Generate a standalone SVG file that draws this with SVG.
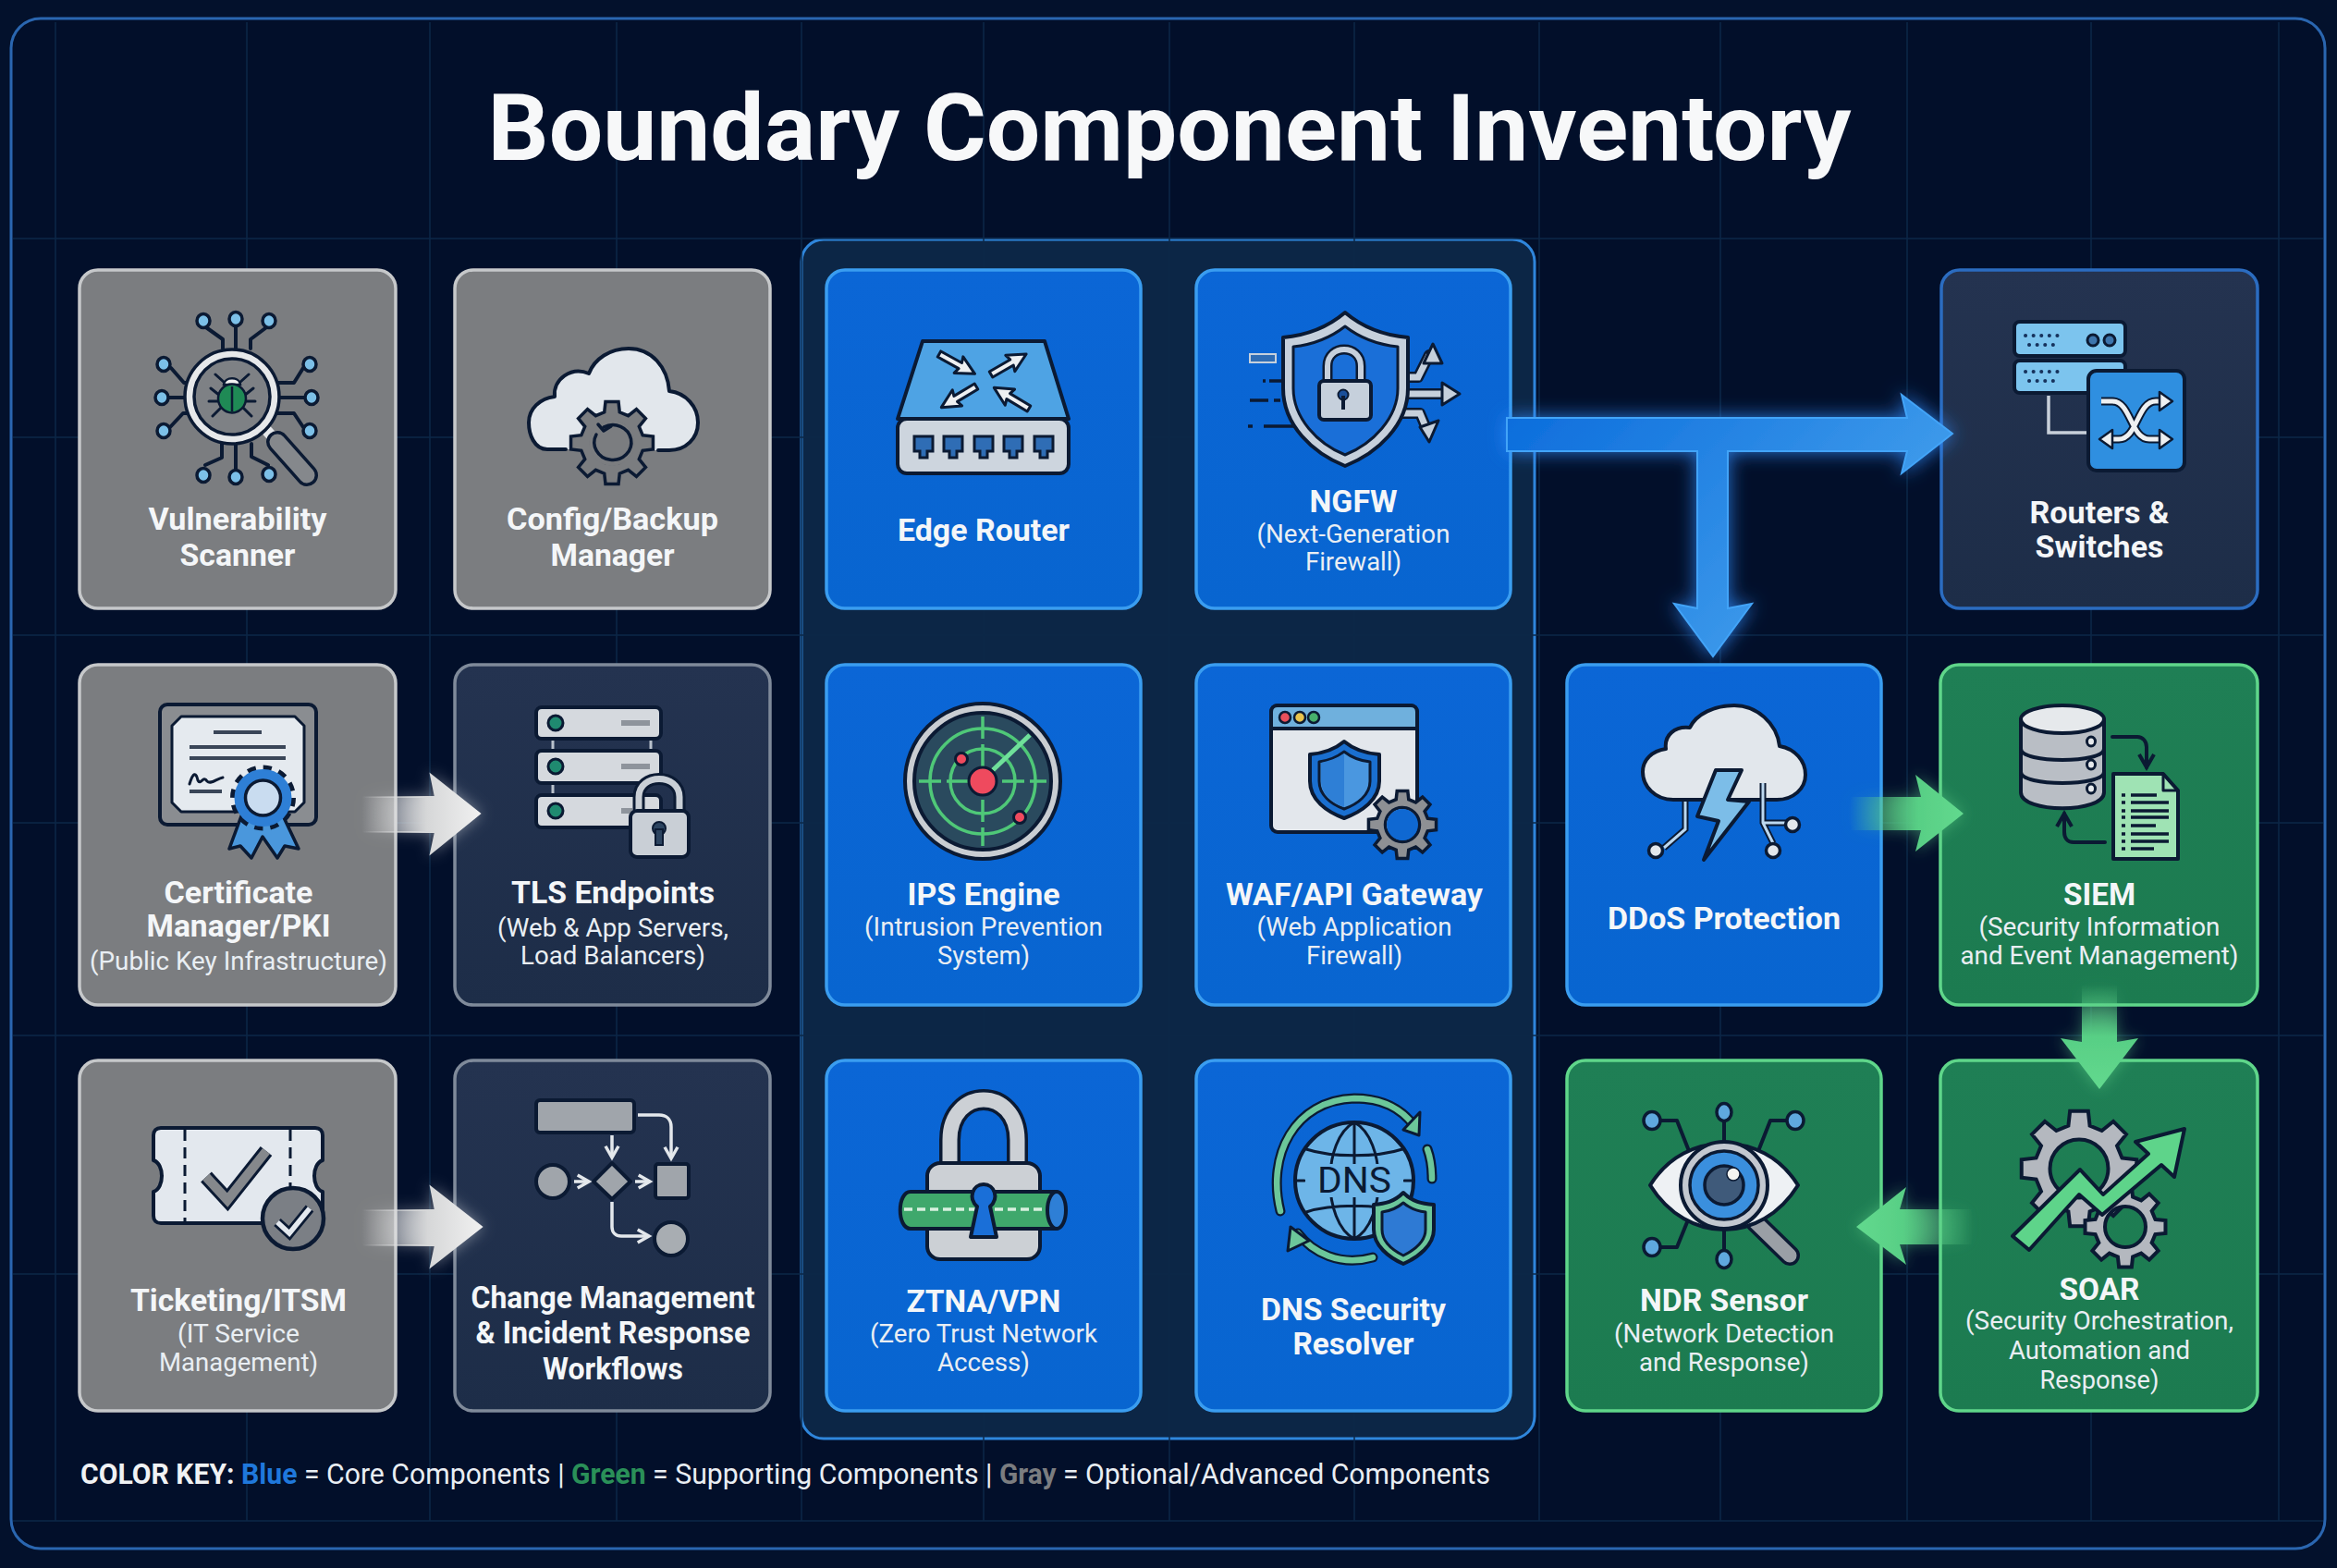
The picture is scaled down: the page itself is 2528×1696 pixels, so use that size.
<svg xmlns="http://www.w3.org/2000/svg" width="2528" height="1696" viewBox="0 0 2528 1696">
<style>
text{font-family:Roboto,"Liberation Sans",sans-serif;text-anchor:middle}
.h{font-size:34px;font-weight:700;fill:#f4f6f8}
.s{font-size:27px;font-weight:400;fill:#e9eef3}
.card{stroke-width:3.5}
.gray{fill:#7b7d80;stroke:#c6c8ca}
.dark{fill:url(#gDark);stroke:#7f8a9a}
.dkb{fill:url(#gDark);stroke:#2b6cc0}
.blue{fill:url(#gBlue);stroke:#3a9df0}
.green{fill:url(#gGreen);stroke:#5fd68a}
.o{stroke:#0b1a33;stroke-width:4;stroke-linejoin:round;stroke-linecap:round}
.l{fill:none;stroke:#0b1a33;stroke-width:4;stroke-linejoin:round;stroke-linecap:round}
.n{fill:#7cc0e8;stroke:#0b1a33;stroke-width:3.5}
.grid{stroke:#0c2848;stroke-width:1.5;fill:none}
.ks{text-anchor:start;font-size:32px}
</style>
<defs>
<linearGradient id="gBlue" x1="0" y1="0" x2="0" y2="1"><stop offset="0" stop-color="#0b66d6"/><stop offset="1" stop-color="#0865d0"/></linearGradient>
<linearGradient id="gGreen" x1="0" y1="0" x2="0" y2="1"><stop offset="0" stop-color="#1f7f55"/><stop offset="1" stop-color="#1c7b50"/></linearGradient>
<linearGradient id="gDark" x1="0" y1="0" x2="0" y2="1"><stop offset="0" stop-color="#243350"/><stop offset="1" stop-color="#1d2d48"/></linearGradient>
<linearGradient id="aT" gradientUnits="userSpaceOnUse" x1="1630" y1="450" x2="2000" y2="800"><stop offset="0" stop-color="#0c6ddc"/><stop offset=".7" stop-color="#3b98ea"/></linearGradient>
<linearGradient id="aG1" gradientUnits="userSpaceOnUse" x1="392" y1="0" x2="519" y2="0"><stop offset="0" stop-color="#e6e6e6" stop-opacity="0"/><stop offset=".55" stop-color="#d6d7d8"/><stop offset="1" stop-color="#f0f0f0"/></linearGradient>
<linearGradient id="aG2" gradientUnits="userSpaceOnUse" x1="392" y1="0" x2="521" y2="0"><stop offset="0" stop-color="#e6e6e6" stop-opacity="0"/><stop offset=".55" stop-color="#d6d7d8"/><stop offset="1" stop-color="#f0f0f0"/></linearGradient>
<linearGradient id="aN1" gradientUnits="userSpaceOnUse" x1="2001" y1="0" x2="2124" y2="0"><stop offset="0" stop-color="#5ed48a" stop-opacity="0"/><stop offset=".6" stop-color="#58cf85"/><stop offset="1" stop-color="#62d98e"/></linearGradient>
<linearGradient id="aN2" gradientUnits="userSpaceOnUse" x1="0" y1="1065" x2="0" y2="1178"><stop offset="0" stop-color="#5ed48a" stop-opacity="0"/><stop offset=".5" stop-color="#58cf85"/><stop offset="1" stop-color="#62d98e"/></linearGradient>
<linearGradient id="aN3" gradientUnits="userSpaceOnUse" x1="2134" y1="0" x2="2008" y2="0"><stop offset="0" stop-color="#5ed48a" stop-opacity="0"/><stop offset=".6" stop-color="#58cf85"/><stop offset="1" stop-color="#62d98e"/></linearGradient>
<filter id="gl" x="-20%" y="-30%" width="140%" height="160%"><feDropShadow dx="0" dy="0" stdDeviation="10" flood-color="#2f8cff" flood-opacity=".8"/></filter>
<filter id="glw" x="-30%" y="-30%" width="160%" height="160%"><feDropShadow dx="0" dy="0" stdDeviation="8" flood-color="#ffffff" flood-opacity=".4"/></filter>
<filter id="gln" x="-30%" y="-30%" width="160%" height="160%"><feDropShadow dx="0" dy="0" stdDeviation="8" flood-color="#5ed48a" flood-opacity=".5"/></filter>
<path id="gear" fill-rule="evenodd" vector-effect="non-scaling-stroke" d="M.737,-.184 L.988,-.156 .988,.156 .737,.184 .651,.391 .809,.588 .588,.809 .391,.651 .184,.737 .156,.988 -.156,.988 -.184,.737 -.391,.651 -.588,.809 -.809,.588 -.651,.391 -.737,.184 -.988,.156 -.988,-.156 -.737,-.184 -.651,-.391 -.809,-.588 -.588,-.809 -.391,-.651 -.184,-.737 -.156,-.988 .156,-.988 .184,-.737 .391,-.651 .588,-.809 .809,-.588 .651,-.391 Z M.5,0 A.5,.5 0 1 0 -.5,0 A.5,.5 0 1 0 .5,0Z"/>
<polygon id="ar" points="0,-3.5 26,-3.5 24,-10 44,0 24,10 26,3.5 0,3.5" fill="#eef0f2" stroke="#0b1a33" stroke-width="3" stroke-linejoin="round"/>
<marker id="mW" viewBox="0 0 10 10" refX="8" refY="5" markerWidth="5" markerHeight="5" orient="auto"><path d="M1,1 L8,5 L1,9" fill="none" stroke="#e4e8ec" stroke-width="2"/></marker>
<marker id="mD" viewBox="0 0 10 10" refX="8" refY="5" markerWidth="5" markerHeight="5" orient="auto"><path d="M1,1 L8,5 L1,9" fill="none" stroke="#0b1a33" stroke-width="2"/></marker>
</defs>

<rect width="2528" height="1696" fill="#03112c"/>
<rect x="12" y="20" width="2503" height="1655" rx="32" fill="#020f2a" stroke="#2a66b0" stroke-width="3"/>
<rect id="panel" x="867" y="259" width="793" height="1297" rx="24" fill="#0c2646" stroke="#2f86dc" stroke-width="3"/>
<path class="grid" d="M60 24V1645M267 24V1645M465 24V1645M667 24V1645M867 24V1645M1064 24V1645M1265 24V1645M1465 24V1645M1665 24V1645M1861 24V1645M2063 24V1645M2262 24V1645M2465 24V1645M14 258H2513M14 473H2513M14 687H2513M14 890H2513M14 1120H2513M14 1378H2513M14 1645H2513"/>

<text id="title" x="1265" y="173" style="font-size:100px;font-weight:700;fill:#f7f8f9" textLength="1475" lengthAdjust="spacingAndGlyphs">Boundary Component Inventory</text>

<g id="vulnerability-scanner">
<rect class="card gray" x="86" y="292" width="342" height="366" rx="20"/>
<path class="l" d="M220 352L241 367V377M255 352V380M291 352L271 367V377M185 398L199 414H205M183 430H202M184 462L198 447H205M328 398L318 414H300M329 430H300M300 447H318L328 462M222 503L240 495V480M255 508V480M272 480V494L290 503"/>
<g class="n"><ellipse cx="220" cy="347" rx="7" ry="7.5"/><ellipse cx="255" cy="345" rx="7" ry="7.5"/><ellipse cx="291" cy="347" rx="7" ry="7.5"/><ellipse cx="177" cy="394" rx="7" ry="7.5"/><ellipse cx="175" cy="430" rx="7" ry="7.5"/><ellipse cx="177" cy="466" rx="7" ry="7.5"/><ellipse cx="335" cy="394" rx="7" ry="7.5"/><ellipse cx="337" cy="430" rx="7" ry="7.5"/><ellipse cx="335" cy="466" rx="7" ry="7.5"/><ellipse cx="220" cy="514" rx="7" ry="7.5"/><ellipse cx="255" cy="516" rx="7" ry="7.5"/><ellipse cx="291" cy="513" rx="7" ry="7.5"/></g>
<line x1="287" y1="464" x2="298" y2="476" stroke="#e6e8ea" stroke-width="12"/>
<line x1="300" y1="478" x2="332" y2="514" stroke="#0b1a33" stroke-width="24" stroke-linecap="round"/>
<line x1="300" y1="478" x2="332" y2="514" stroke="#85888c" stroke-width="17" stroke-linecap="round"/>
<circle cx="251" cy="429" r="46" fill="#7e8185" stroke="#e6e8ea" stroke-width="10"/>
<circle cx="251" cy="429" r="51" fill="none" stroke="#0b1a33" stroke-width="3.5"/>
<circle cx="251" cy="429" r="41" fill="none" stroke="#0b1a33" stroke-width="3.5"/>
<path class="l" style="stroke-width:3" d="M233 405L243 414M269 405L259 414M228 420L238 428M274 420L264 428M226 434H237M276 434H265M230 450L240 440M272 450L262 440"/>
<path d="M242 416C243 407 259 407 260 416Z" fill="#f2f2f2" stroke="#0b1a33" stroke-width="2.5"/>
<ellipse cx="251" cy="431" rx="15" ry="15.5" fill="#1f8a55" stroke="#0b1a33" stroke-width="2.5"/>
<line x1="251" y1="418" x2="251" y2="445" stroke="#0b1a33" stroke-width="2.5"/>
<text class="h" x="257" y="573" textLength="193" lengthAdjust="spacingAndGlyphs">Vulnerability</text>
<text class="h" x="257" y="612" textLength="125" lengthAdjust="spacingAndGlyphs">Scanner</text>
</g>

<g id="config-backup-manager">
<rect class="card gray" x="492" y="292" width="341" height="366" rx="20"/>
<path d="M612 486H592C578 486 572 470 572 457C572 442 584 431 600 429C598 410 618 396 637 404C643 388 660 377 680 377C705 377 722 397 724 423C742 425 755 440 755 457C755 474 742 487 724 487H712Z" fill="#e2e7ec"/>
<path class="l" d="M612 486H592C578 486 572 470 572 457C572 442 584 431 600 429C598 410 618 396 637 404C643 388 660 377 680 377C705 377 722 397 724 423C742 425 755 440 755 457C755 474 742 487 724 487H712"/>
<use href="#gear" transform="translate(662 479) scale(45)" fill="#7b7d80" stroke="#0b1a33" stroke-width="3.5"/>
<circle cx="662" cy="479" r="25" fill="#7b7d80"/>
<path class="l" style="stroke-width:3.5" d="M653 462A20 19 0 1 1 645 470"/>
<path class="l" style="stroke-width:3.5" d="M647 459L653 466L661 461"/>
<text class="h" x="662.5" y="573" textLength="229" lengthAdjust="spacingAndGlyphs">Config/Backup</text>
<text class="h" x="662.5" y="612" textLength="134" lengthAdjust="spacingAndGlyphs">Manager</text>
</g>

<g id="edge-router">
<rect class="card blue" x="894" y="292" width="340" height="366" rx="20"/>
<path class="o" d="M998 369H1130L1156 453H971Z" fill="#4ea3e4"/>
<rect class="o" x="971" y="453" width="185" height="59" rx="10" fill="#cdd5de"/>
<use href="#ar" transform="translate(1016 383) rotate(29)"/>
<use href="#ar" transform="translate(1072 405) rotate(-30)"/>
<use href="#ar" transform="translate(1056 418) rotate(149)"/>
<use href="#ar" transform="translate(1113 442) rotate(211)"/>
<g fill="#2f6db5" stroke="#0b1a33" stroke-width="3"><path d="M989 472H1009V488H1003V495H995V488H989Z"/><path d="M1021 472H1041V488H1035V495H1027V488H1021Z"/><path d="M1054 472H1074V488H1068V495H1060V488H1054Z"/><path d="M1086 472H1106V488H1100V495H1092V488H1086Z"/><path d="M1119 472H1139V488H1133V495H1125V488H1119Z"/></g>
<text class="h" x="1064" y="585" textLength="186" lengthAdjust="spacingAndGlyphs">Edge Router</text>
</g>

<g id="ngfw">
<rect class="card blue" x="1294" y="292" width="340" height="366" rx="20"/>
<path class="l" style="stroke-width:12" d="M1510 408H1534L1546 384M1510 426H1566M1508 447H1536L1544 466"/>
<path fill="none" stroke="#c6d0dc" stroke-width="7" d="M1510 408H1534L1546 384M1510 426H1566M1508 447H1536L1544 466"/>
<path class="o" fill="#c6d0dc" d="M1550 372L1560 393H1540ZM1579 426L1560 414V438ZM1546 478L1556 455L1536 462Z" style="stroke-width:3"/>
<path class="o" d="M1455 338C1435 355 1410 363 1388 365V420C1388 460 1420 490 1455 504C1490 490 1523 460 1523 420V365C1500 363 1475 355 1455 338Z" fill="#c6d0dc"/>
<path class="o" style="stroke-width:3" d="M1455 353C1437 367 1418 373 1399 375V420C1399 452 1425 480 1455 492C1485 480 1512 452 1512 420V375C1492 373 1473 367 1455 353Z" fill="#1a6fd8"/>
<path class="l" style="stroke:#0b1a33;stroke-width:11" d="M1436 412V396C1436 372 1472 372 1472 396V412"/>
<path class="l" style="stroke:#c6d0dc;stroke-width:6" d="M1436 412V396C1436 372 1472 372 1472 396V412"/>
<rect class="o" x="1427" y="412" width="56" height="42" rx="5" fill="#c6d0dc"/>
<circle cx="1453" cy="427" r="5.5" fill="#1a4f9a" stroke="#0b1a33" stroke-width="2"/><rect x="1451" y="428" width="4" height="15" fill="#0b1a33"/>
<rect x="1352" y="383" width="28" height="9" fill="#2f6db5" stroke="#c6d0dc" stroke-width="2"/>
<path fill="none" stroke="#0b1a33" stroke-width="3.5" d="M1366 412H1369M1373 412H1388M1352 433H1372M1378 433H1385M1350 461H1355M1367 461H1400"/>
<text class="h" x="1464" y="554" textLength="95" lengthAdjust="spacingAndGlyphs">NGFW</text>
<text class="s" x="1464" y="587" textLength="209" lengthAdjust="spacingAndGlyphs">(Next-Generation</text>
<text class="s" x="1464" y="617" textLength="104" lengthAdjust="spacingAndGlyphs">Firewall)</text>
</g>

<g id="routers-switches">
<rect class="card dkb" x="2100" y="292" width="342" height="366" rx="20"/>
<path fill="none" stroke="#c8d0da" stroke-width="3.5" d="M2216 428V468H2258"/>
<rect class="o" x="2179" y="348" width="120" height="37" rx="6" fill="#7cc4ee"/>
<rect class="o" x="2179" y="390" width="120" height="35" rx="6" fill="#7cc4ee"/>
<g fill="none" stroke="#16325c" stroke-width="4" stroke-linecap="round" stroke-dasharray=".1 8.5"><path d="M2191 363H2231M2195 373H2228M2191 402H2231M2195 412H2228"/></g>
<circle cx="2264" cy="368" r="6" fill="#3d75ad" stroke="#0b1a33" stroke-width="3"/><circle cx="2282" cy="368" r="6" fill="#3d75ad" stroke="#0b1a33" stroke-width="3"/>
<rect class="o" x="2259" y="401" width="104" height="108" rx="9" fill="#2f8fe0"/>
<path fill="none" stroke="#0b1a33" stroke-width="9" d="M2273 434H2285C2305 434 2305 475 2325 475H2340M2281 475H2292C2312 475 2312 434 2332 434H2340"/>
<path fill="none" stroke="#eef0f2" stroke-width="5" d="M2273 434H2285C2305 434 2305 475 2325 475H2340M2281 475H2292C2312 475 2312 434 2332 434H2340"/>
<path class="o" style="stroke-width:2.5" fill="#eef0f2" d="M2350 434L2336 424V444ZM2350 475L2336 465V485ZM2271 475L2285 465V485Z"/>
<text class="h" x="2271" y="566" textLength="151" lengthAdjust="spacingAndGlyphs">Routers &amp;</text>
<text class="h" x="2271" y="603" textLength="139" lengthAdjust="spacingAndGlyphs">Switches</text>
</g>

<g id="certificate-manager">
<rect class="card gray" x="86" y="719" width="342" height="368" rx="20"/>
<rect class="o" x="173" y="762" width="169" height="130" rx="8" fill="#8a8d91"/>
<path class="o" style="stroke-width:3" d="M196 775H319L329 785V868L319 878H196L186 868V785Z" fill="#e5eaef"/>
<path fill="none" stroke="#3a4658" stroke-width="4" d="M231 792H283M205 808H309M205 820H309M205 856H240"/>
<path class="l" style="stroke-width:3" d="M205 848C209 835 212 835 214 844C217 850 220 838 224 845C228 849 235 842 241 841"/>
<path d="M262 880L248 918L260 915L272 928L284 905L300 928L308 915L323 918L305 880Z" fill="#4a97dc" class="o" style="stroke-width:3.5"/>
<circle cx="284.5" cy="863" r="32" fill="none" stroke="#0b1a33" stroke-width="7" stroke-dasharray="9 7.75"/>
<circle cx="284.5" cy="863" r="31" fill="#2e7fd6"/>
<circle cx="284.5" cy="863" r="19" fill="#c9dcf0" stroke="#0b1a33" stroke-width="3.5"/>
<text class="h" x="258" y="977" textLength="161" lengthAdjust="spacingAndGlyphs">Certificate</text>
<text class="h" x="258" y="1013" textLength="199" lengthAdjust="spacingAndGlyphs">Manager/PKI</text>
<text class="s" x="258" y="1049" textLength="322" lengthAdjust="spacingAndGlyphs">(Public Key Infrastructure)</text>
</g>

<g id="tls-endpoints">
<rect class="card dark" x="492" y="719" width="341" height="368" rx="20"/>
<path fill="none" stroke="#b9c1cb" stroke-width="3" d="M598 800V811M704 800V811M598 848V859"/>
<rect class="o" x="580" y="765" width="135" height="34" rx="6" fill="#d5d9de"/>
<rect class="o" x="580" y="812" width="135" height="35" rx="6" fill="#d5d9de"/>
<rect class="o" x="580" y="860" width="135" height="35" rx="6" fill="#d5d9de"/>
<g fill="#1f8a70" stroke="#0b1a33" stroke-width="3"><circle cx="601" cy="782" r="8"/><circle cx="601" cy="829" r="8"/><circle cx="601" cy="877" r="8"/></g>
<g fill="#8e949c"><rect x="672" y="779" width="31" height="6"/><rect x="672" y="826" width="31" height="6"/><rect x="672" y="874" width="12" height="6"/></g>
<path fill="none" stroke="#0b1a33" stroke-width="13" d="M691 877V862C691 836 735 836 735 862V877"/>
<path fill="none" stroke="#c9cfd6" stroke-width="7" d="M691 877V862C691 836 735 836 735 862V877"/>
<rect class="o" x="682" y="877" width="63" height="50" rx="7" fill="#c9cfd6"/>
<circle cx="713" cy="896" r="7" fill="#2c4460" stroke="#0b1a33" stroke-width="2"/><rect x="709" y="897" width="8" height="17" fill="#2c4460" stroke="#0b1a33" stroke-width="2"/>
<text class="h" x="663" y="977" textLength="220" lengthAdjust="spacingAndGlyphs">TLS Endpoints</text>
<text class="s" x="663" y="1013" textLength="250" lengthAdjust="spacingAndGlyphs">(Web &amp; App Servers,</text>
<text class="s" x="663" y="1043" textLength="200" lengthAdjust="spacingAndGlyphs">Load Balancers)</text>
</g>

<g id="ips-engine">
<rect class="card blue" x="894" y="719" width="340" height="368" rx="20"/>
<circle cx="1063" cy="845" r="84" fill="#c9cdd2" stroke="#0b1a33" stroke-width="4"/>
<circle cx="1063" cy="845" r="74" fill="#2a4a5e" stroke="#0b1a33" stroke-width="4"/>
<g fill="none" stroke="#4fc878" stroke-width="3.5"><circle cx="1063" cy="845" r="57"/><circle cx="1063" cy="845" r="35"/><path stroke-dasharray="24 6" d="M994 845H1132M1063 775V915"/></g>
<line x1="1074" y1="833" x2="1114" y2="795" stroke="#6fe09a" stroke-width="5"/>
<g fill="#ef4a5e" stroke="#0b1a33" stroke-width="3"><circle cx="1063" cy="845" r="15"/><circle cx="1040" cy="821" r="6.5"/><circle cx="1103" cy="884" r="6.5"/></g>
<text class="h" x="1064" y="979" textLength="165" lengthAdjust="spacingAndGlyphs">IPS Engine</text>
<text class="s" x="1064" y="1012" textLength="258" lengthAdjust="spacingAndGlyphs">(Intrusion Prevention</text>
<text class="s" x="1064" y="1043" textLength="100" lengthAdjust="spacingAndGlyphs">System)</text>
</g>

<g id="waf-api-gateway">
<rect class="card blue" x="1294" y="719" width="340" height="368" rx="20"/>
<rect class="o" x="1375" y="763" width="158" height="137" rx="7" fill="#e3e7ec"/>
<path class="o" d="M1382 763H1526C1530 763 1533 766 1533 770V788H1375V770C1375 766 1378 763 1382 763Z" fill="#6fb0dd"/>
<g stroke="#0b1a33" stroke-width="2.5"><circle cx="1390" cy="776" r="6" fill="#e8505b"/><circle cx="1406" cy="776" r="6" fill="#e8c34e"/><circle cx="1421" cy="776" r="6" fill="#47b06c"/></g>
<path class="o" d="M1454 802C1442 812 1430 815 1417 816V845C1417 865 1435 878 1454 885C1473 878 1492 865 1492 845V816C1478 815 1466 812 1454 802Z" fill="#1a6fd0"/>
<path class="o" style="stroke-width:3" d="M1454 813C1445 820 1436 823 1427 824V845C1427 860 1440 870 1454 875C1468 870 1482 860 1482 845V824C1472 823 1463 820 1454 813Z" fill="#4a97e0"/>
<path d="M1454 815V873C1440 868 1429 858 1429 845V825C1438 823 1446 820 1454 815Z" fill="#2e7fd6"/>
<use href="#gear" transform="translate(1517 892) scale(37)" fill="#8e9094" stroke="#0b1a33" stroke-width="3.5"/>
<circle cx="1517" cy="892" r="17" fill="#0f68d2"/>
<text class="h" x="1465" y="979" textLength="278" lengthAdjust="spacingAndGlyphs">WAF/API Gateway</text>
<text class="s" x="1465" y="1012" textLength="211" lengthAdjust="spacingAndGlyphs">(Web Application</text>
<text class="s" x="1465" y="1043" textLength="104" lengthAdjust="spacingAndGlyphs">Firewall)</text>
</g>

<g id="ddos-protection">
<rect class="card blue" x="1695" y="719" width="340" height="368" rx="20"/>
<path class="o" d="M1810 865C1790 865 1777 850 1777 835C1777 822 1787 812 1802 810C1800 795 1812 785 1828 787C1835 772 1855 763 1876 763C1900 763 1922 782 1925 807C1942 810 1953 823 1953 838C1953 853 1940 865 1922 865Z" fill="#e2e7ec"/>
<path fill="none" stroke="#0b1a33" stroke-width="7" d="M1823 867V897L1800 917M1907 847V890L1918 912M1907 890H1932"/>
<path fill="none" stroke="#bcd8f0" stroke-width="3" d="M1823 867V897L1800 917M1907 847V890L1918 912M1907 890H1932"/>
<g fill="#e2e7ec" stroke="#0b1a33" stroke-width="3.5"><circle cx="1791" cy="920" r="7.5"/><circle cx="1918" cy="920" r="7.5"/><circle cx="1939" cy="892" r="7.5"/></g>
<path class="o" d="M1856 833H1884L1869 865L1892 867L1843 930L1859 888L1836 883Z" fill="#7cbde8"/>
<text class="h" x="1865" y="1005" textLength="252" lengthAdjust="spacingAndGlyphs">DDoS Protection</text>
</g>

<g id="siem">
<rect class="card green" x="2099" y="719" width="343" height="368" rx="20"/>
<path class="o" d="M2186 778V857C2186 880 2276 880 2276 857V778Z" fill="#b9bec5"/>
<ellipse class="o" cx="2231" cy="778" rx="45" ry="15" fill="#e6e9ec"/>
<path class="l" d="M2186 810C2186 826 2276 826 2276 810M2186 835C2186 851 2276 851 2276 835"/>
<g fill="#e6e9ec" stroke="#0b1a33" stroke-width="3"><ellipse cx="2262" cy="802" rx="4.5" ry="5"/><ellipse cx="2262" cy="827" rx="4.5" ry="5"/><ellipse cx="2262" cy="853" rx="4.5" ry="5"/></g>
<path class="l" marker-end="url(#mD)" d="M2285 797H2312C2318 797 2322 802 2322 808V830"/>
<path class="l" marker-end="url(#mD)" d="M2277 911H2243C2236 911 2233 906 2233 900V880"/>
<path class="o" d="M2286 837H2340L2356 855V929H2286Z" fill="#9fe3b4"/>
<path class="l" style="stroke-width:3" d="M2340 837V855H2356"/>
<path fill="none" stroke="#0b1a33" stroke-width="3.5" d="M2295 860H2299M2305 860H2333M2295 868H2299M2305 868H2346M2295 877H2299M2305 877H2346M2295 884H2299M2305 884H2346M2295 893H2299M2305 893H2332M2295 902H2299M2305 902H2346M2295 910H2299M2305 910H2346M2295 918H2299M2305 918H2330"/>
<text class="h" x="2271" y="979" textLength="78" lengthAdjust="spacingAndGlyphs">SIEM</text>
<text class="s" x="2271" y="1012" textLength="261" lengthAdjust="spacingAndGlyphs">(Security Information</text>
<text class="s" x="2271" y="1043" textLength="301" lengthAdjust="spacingAndGlyphs">and Event Management)</text>
</g>

<g id="ticketing-itsm">
<rect class="card gray" x="86" y="1147" width="342" height="379" rx="20"/>
<path class="o" d="M174 1220H341C346 1220 349 1223 349 1228V1255C337 1259 337 1285 349 1289V1315C349 1320 346 1323 341 1323H174C169 1323 166 1320 166 1315V1289C178 1285 178 1259 166 1255V1228C166 1223 169 1220 174 1220Z" fill="#e3e8ee"/>
<path fill="none" stroke="#0b1a33" stroke-width="3" stroke-dasharray="12 7" d="M200 1222V1322M314 1222V1322"/>
<path fill="none" stroke="#0b1a33" stroke-width="16" stroke-linejoin="miter" d="M223 1273L246 1298L288 1245"/>
<path fill="none" stroke="#85888c" stroke-width="10" stroke-linejoin="miter" d="M223 1273L246 1298L288 1245"/>
<circle cx="317" cy="1318" r="33" fill="#7b7f85" stroke="#0b1a33" stroke-width="4.5"/>
<path fill="none" stroke="#0b1a33" stroke-width="11" d="M300 1322L313 1334L335 1307"/>
<path fill="none" stroke="#e3e8ee" stroke-width="5.5" d="M300 1322L313 1334L335 1307"/>
<text class="h" x="258" y="1418" textLength="234" lengthAdjust="spacingAndGlyphs">Ticketing/ITSM</text>
<text class="s" x="258" y="1452" textLength="132" lengthAdjust="spacingAndGlyphs">(IT Service</text>
<text class="s" x="258" y="1483" textLength="172" lengthAdjust="spacingAndGlyphs">Management)</text>
</g>

<g id="change-management">
<rect class="card dark" x="492" y="1147" width="341" height="379" rx="20"/>
<rect class="o" x="580" y="1190" width="106" height="35" rx="4" fill="#a0a5ab"/>
<circle class="o" cx="598" cy="1278" r="18" fill="#a0a5ab"/>
<path class="o" d="M662 1258L682 1278L662 1297L642 1278Z" fill="#a0a5ab"/>
<rect class="o" x="709" y="1259" width="36" height="37" rx="3" fill="#a0a5ab"/>
<circle class="o" cx="726" cy="1340" r="18" fill="#a8adb2"/>
<g fill="none" stroke="#e4e8ec" stroke-width="3.5" marker-end="url(#mW)">
<path d="M690 1206H713C721 1206 726 1211 726 1219V1253"/>
<path d="M662 1228V1252"/>
<path d="M621 1278H637"/>
<path d="M687 1278H703"/>
<path d="M662 1300V1327C662 1333 666 1337 672 1337H702"/>
</g>
<text class="h" x="663" y="1415" textLength="307" lengthAdjust="spacingAndGlyphs">Change Management</text>
<text class="h" x="663" y="1453" textLength="297" lengthAdjust="spacingAndGlyphs">&amp; Incident Response</text>
<text class="h" x="663" y="1492" textLength="152" lengthAdjust="spacingAndGlyphs">Workflows</text>
</g>

<g id="ztna-vpn">
<rect class="card blue" x="894" y="1147" width="340" height="379" rx="20"/>
<path fill="none" stroke="#0b1a33" stroke-width="23" d="M1027.500 1262V1233C1027.500 1175 1100.500 1175 1100.500 1233V1262"/>
<path fill="none" stroke="#ccd0d5" stroke-width="16" d="M1027.500 1262V1233C1027.500 1175 1100.500 1175 1100.500 1233V1262"/>
<rect class="o" x="1003" y="1258" width="122" height="104" rx="14" fill="#ccd0d5"/>
<path class="o" d="M985 1289H1143V1329H985C970 1329 970 1289 985 1289Z" fill="#3fa86c"/>
<ellipse class="o" cx="1143" cy="1309" rx="10" ry="20" fill="#2e7fd6"/>
<path fill="none" stroke="#d8f0de" stroke-width="3.5" stroke-dasharray="9 5" d="M978 1308H1128"/>
<path class="o" d="M1064 1281C1052 1281 1047 1296 1057 1305L1050 1338H1078L1071 1305C1081 1296 1076 1281 1064 1281Z" fill="#1a6fd8"/>
<text class="h" x="1064" y="1419" textLength="167" lengthAdjust="spacingAndGlyphs">ZTNA/VPN</text>
<text class="s" x="1064" y="1452" textLength="246" lengthAdjust="spacingAndGlyphs">(Zero Trust Network</text>
<text class="s" x="1064" y="1483" textLength="100" lengthAdjust="spacingAndGlyphs">Access)</text>
</g>

<g id="dns-security-resolver">
<rect class="card blue" x="1294" y="1147" width="340" height="379" rx="20"/>
<path fill="none" stroke="#0b1a33" stroke-width="11" stroke-linecap="round" d="M1385 1310C1370 1250 1400 1190 1465 1188C1495 1188 1515 1198 1530 1218M1485 1360C1450 1370 1420 1355 1404 1334M1544 1243C1548 1254 1549 1265 1549 1275"/>
<path fill="none" stroke="#6cc79a" stroke-width="6.500" stroke-linecap="round" d="M1385 1310C1370 1250 1400 1190 1465 1188C1495 1188 1515 1198 1530 1218M1485 1360C1450 1370 1420 1355 1404 1334M1544 1243C1548 1254 1549 1265 1549 1275"/>
<path class="o" style="stroke-width:3" fill="#6cc79a" d="M1535 1228L1536 1203L1518 1222ZM1396 1327L1393 1353L1416 1342Z"/>
<ellipse class="o" cx="1465" cy="1277" rx="64" ry="63" fill="#6db5e8"/>
<path class="l" style="stroke-width:3" d="M1465 1214V1340M1465 1214C1430 1232 1430 1322 1465 1340M1465 1214C1500 1232 1500 1322 1465 1340M1413 1243C1440 1252 1490 1252 1517 1243M1413 1311C1440 1302 1490 1302 1517 1311M1401 1277H1411M1519 1277H1529"/>
<rect x="1412" y="1259" width="106" height="36" fill="#6db5e8"/>
<text x="1465" y="1290" style="font-size:38px;font-weight:400;fill:#0b1a33" textLength="80" lengthAdjust="spacingAndGlyphs">DNS</text>
<path class="o" d="M1518 1290C1508 1300 1498 1302 1486 1303V1330C1486 1347 1502 1360 1518 1367C1534 1360 1551 1347 1551 1330V1303C1538 1302 1528 1300 1518 1290Z" fill="#6cc79a"/>
<path class="o" style="stroke-width:3" d="M1518 1301C1511 1307 1503 1310 1495 1311V1330C1495 1343 1506 1352 1518 1358C1530 1352 1542 1343 1542 1330V1311C1533 1310 1525 1307 1518 1301Z" fill="#2e7ad4"/>
<text class="h" x="1464" y="1428" textLength="200" lengthAdjust="spacingAndGlyphs">DNS Security</text>
<text class="h" x="1464" y="1465" textLength="131" lengthAdjust="spacingAndGlyphs">Resolver</text>
</g>

<g id="ndr-sensor">
<rect class="card green" x="1695" y="1147" width="340" height="379" rx="20"/>
<path class="l" d="M1797 1212H1814L1827 1245M1865 1212V1240M1932 1212H1915L1902 1245M1797 1349H1814L1827 1317M1865 1352V1328"/>
<g fill="#5fa8de" stroke="#0b1a33" stroke-width="3.5"><ellipse cx="1787" cy="1212" rx="9" ry="9.500"/><ellipse cx="1865" cy="1203" rx="8" ry="9.500"/><ellipse cx="1942" cy="1212" rx="9" ry="9.500"/><ellipse cx="1787" cy="1349" rx="9" ry="9.500"/><ellipse cx="1865" cy="1362" rx="8" ry="9.500"/></g>
<line x1="1899" y1="1322" x2="1936" y2="1358" stroke="#0b1a33" stroke-width="22" stroke-linecap="round"/>
<line x1="1899" y1="1322" x2="1936" y2="1358" stroke="#9a9fa6" stroke-width="15" stroke-linecap="round"/>
<path class="o" d="M1785 1282C1805 1250 1835 1237 1865 1237C1895 1237 1925 1250 1945 1282C1925 1314 1895 1330 1865 1330C1835 1330 1805 1314 1785 1282Z" fill="#eef1f4"/>
<circle cx="1865" cy="1282" r="47" fill="#c3c8d0" stroke="#0b1a33" stroke-width="4"/>
<circle cx="1865" cy="1282" r="37" fill="#3a8fde" stroke="#0b1a33" stroke-width="3.500"/>
<circle cx="1865" cy="1282" r="21" fill="#3f5a7a" stroke="#0b1a33" stroke-width="3.500"/>
<circle cx="1875" cy="1270" r="7" fill="#f4f4f0" stroke="#0b1a33" stroke-width="1.500"/>
<text class="h" x="1865" y="1418" textLength="182" lengthAdjust="spacingAndGlyphs">NDR Sensor</text>
<text class="s" x="1865" y="1452" textLength="238" lengthAdjust="spacingAndGlyphs">(Network Detection</text>
<text class="s" x="1865" y="1483" textLength="184" lengthAdjust="spacingAndGlyphs">and Response)</text>
</g>

<g id="soar">
<rect class="card green" x="2099" y="1147" width="343" height="379" rx="20"/>
<use href="#gear" transform="translate(2249 1264) scale(63)" fill="#b4b8bf" stroke="#0b1a33" stroke-width="4"/>
<use href="#gear" transform="translate(2299 1327) scale(44)" fill="#b4b8bf" stroke="#0b1a33" stroke-width="4"/>
<path class="o" fill="#5ed48a" d="M2177 1337L2250 1265L2275 1292L2324 1248L2310 1235L2363 1221L2352 1273L2338 1260L2274 1314L2249 1292L2195 1352Z"/>
<text class="h" x="2271" y="1406" textLength="87" lengthAdjust="spacingAndGlyphs">SOAR</text>
<text class="s" x="2271" y="1438" textLength="290" lengthAdjust="spacingAndGlyphs">(Security Orchestration,</text>
<text class="s" x="2271" y="1470" textLength="196" lengthAdjust="spacingAndGlyphs">Automation and</text>
<text class="s" x="2271" y="1502" textLength="129" lengthAdjust="spacingAndGlyphs">Response)</text>
</g>

<g id="connectors">
<path id="c-ngfw" filter="url(#gl)" fill="url(#aT)" stroke="#43a4f8" stroke-width="2" d="M1630 452H2063L2057 427L2112 469L2057 512L2063 488H1869V658L1895 653L1853 710L1811 653L1836 658V488H1630Z"/>
<path id="c-cert-tls" filter="url(#glw)" fill="url(#aG1)" stroke="url(#aG1)" stroke-width="2" d="M392 862H471L466 838L519 880L466 923L471 900H392Z"/>
<path id="c-ticket-change" filter="url(#glw)" fill="url(#aG2)" stroke="url(#aG2)" stroke-width="2" d="M392 1309H471L466 1284L521 1327L466 1370L471 1347H392Z"/>
<path id="c-ddos-siem" filter="url(#gln)" fill="url(#aN1)" d="M2001 862H2078L2072 838L2124 880L2072 921L2078 898H2001Z"/>
<path id="c-siem-soar" filter="url(#gln)" fill="url(#aN2)" d="M2252 1065H2290V1127L2313 1123L2271 1178L2229 1123L2252 1127Z"/>
<path id="c-soar-ndr" filter="url(#gln)" fill="url(#aN3)" d="M2134 1308H2055L2062 1284L2008 1327L2062 1368L2055 1346H2134Z"/>
</g>

<g id="color-key">
<text class="ks" y="1605"><tspan x="87" textLength="174" lengthAdjust="spacingAndGlyphs" style="font-weight:700;fill:#f0f2f4">COLOR KEY: </tspan><tspan x="261" textLength="68" lengthAdjust="spacingAndGlyphs" style="font-weight:700;fill:#1f78dc">Blue </tspan><tspan x="329" textLength="289" lengthAdjust="spacingAndGlyphs" style="fill:#e9eef3">= Core Components | </tspan><tspan x="618" textLength="88" lengthAdjust="spacingAndGlyphs" style="font-weight:700;fill:#2a9058">Green </tspan><tspan x="706" textLength="375" lengthAdjust="spacingAndGlyphs" style="fill:#e9eef3">= Supporting Components | </tspan><tspan x="1081" textLength="69" lengthAdjust="spacingAndGlyphs" style="font-weight:700;fill:#7b7d80">Gray </tspan><tspan x="1150" textLength="462" lengthAdjust="spacingAndGlyphs" style="fill:#e9eef3">= Optional/Advanced Components</tspan></text>
</g>
</svg>
